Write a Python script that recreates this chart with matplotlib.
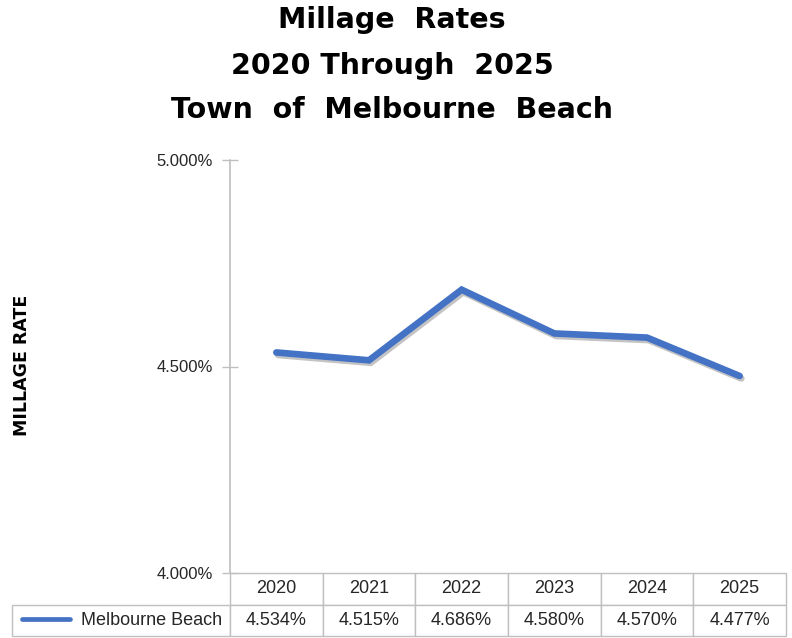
import matplotlib
matplotlib.use("Agg")
import matplotlib.pyplot as plt
import matplotlib.patheffects as pe
from matplotlib.lines import Line2D

plt.rcParams['font.family'] = ['Liberation Sans', 'DejaVu Sans']

years = ['2020', '2021', '2022', '2023', '2024', '2025']
rates = [4.534, 4.515, 4.686, 4.580, 4.570, 4.477]
series_name = 'Melbourne Beach'
y_ticks = [4.0, 4.5, 5.0]

blue = '#4472C4'
grid_grey = '#BFBFBF'
text_col = '#262626'

W, H = 792, 638
fig = plt.figure(figsize=(W / 100, H / 100), dpi=100)

# axes box in pixels: x 230..786, y 160..573
ax_l, ax_r, ax_t, ax_b = 230, 786, 160, 573
ax = fig.add_axes([ax_l / W, 1 - ax_b / H, (ax_r - ax_l) / W, (ax_b - ax_t) / H])

x = list(range(len(years)))
ax.plot(x, rates, color=blue, lw=4.8, solid_joinstyle='miter', solid_capstyle='round',
        path_effects=[pe.SimpleLineShadow(offset=(1.2, -1.8), shadow_color='#555555', alpha=0.35),
                      pe.Normal()])

ax.set_xlim(-0.5, len(years) - 0.5)
ax.set_ylim(4.0, 5.0)
ax.set_yticks(y_ticks)
ax.set_yticklabels(['%.3f%%' % v for v in y_ticks], fontsize=12, color=text_col)
ax.set_xticks([])
ax.tick_params(axis='y', direction='inout', length=11, width=1, color=grid_grey, pad=7)

for s in ['top', 'right', 'bottom']:
    ax.spines[s].set_visible(False)
ax.spines['left'].set_color(grid_grey)
ax.spines['left'].set_linewidth(1.2)

# data table below the axes
ax_w = ax_r - ax_l
ax_h = ax_b - ax_t
lab_w = 218
tab_h = 63
total_w = lab_w + ax_w
col_w = [lab_w / total_w] + [ax_w / len(years) / total_w] * len(years)
cells = [[''] + years, [series_name] + ['%.3f%%' % v for v in rates]]
tab = ax.table(cellText=cells, colWidths=col_w, cellLoc='center',
               bbox=[-lab_w / ax_w, -tab_h / ax_h, total_w / ax_w, tab_h / ax_h])
tab.auto_set_font_size(False)
tab.set_fontsize(13)
for (r, c), cell in tab.get_celld().items():
    cell.set_edgecolor(grid_grey)
    cell.set_linewidth(1.0)
    cell.get_text().set_color(text_col)
    if r == 0 and c == 0:
        cell.visible_edges = 'open'
    if r == 1 and c == 0:
        cell.PAD = 0.035
        cell.get_text().set_ha('right')
        cell._loc = 'right'

# legend key inside the row label cell
y_key = (ax_b - 619) / ax_h
ax.add_line(Line2D([(22 - ax_l) / ax_w, (70 - ax_l) / ax_w], [y_key, y_key],
                   transform=ax.transAxes, color=blue, lw=3.4, solid_capstyle='round',
                   clip_on=False))

# titles
title_kw = dict(ha='center', va='center', fontsize=20.5, fontweight='bold',
                color='black', family='DejaVu Sans')
fig.text(0.495, 1 - 20 / H, 'Millage  Rates', **title_kw)
fig.text(0.495, 1 - 66 / H, '2020 Through  2025', **title_kw)
fig.text(0.495, 1 - 110 / H, 'Town  of  Melbourne  Beach', **title_kw)

fig.text(22 / W, 1 - 365 / H, 'MILLAGE RATE', rotation=90, ha='center', va='center',
         fontsize=12.5, fontweight='bold', color='black', family='DejaVu Sans')

fig.savefig('out.png', dpi=100)
